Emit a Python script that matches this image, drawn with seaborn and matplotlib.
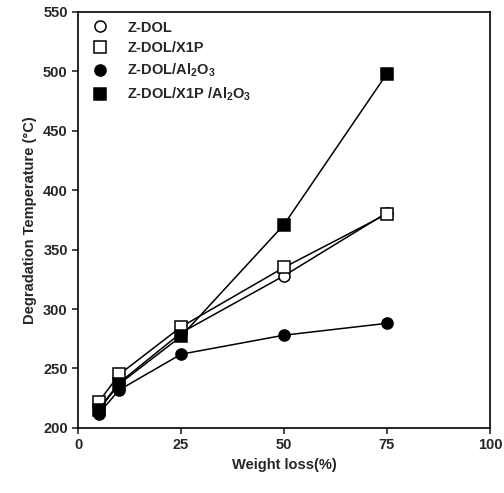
import seaborn as sns
import matplotlib.pyplot as plt
import pandas as pd

sns.set_style("ticks")
plt.rcParams['font.family'] = ['Liberation Sans', 'DejaVu Sans']
plt.rcParams['mathtext.default'] = 'regular'

weight_loss = [5, 10, 25, 50, 75]
zdol = [216, 238, 280, 328, 381]
zdol_x1p = [222, 245, 285, 335, 380]
zdol_al2o3 = [212, 232, 262, 278, 288]
zdol_x1p_al2o3 = [215, 237, 277, 371, 498]

labels = ['Z-DOL', 'Z-DOL/X1P', r'Z-DOL/Al$_2$O$_3$', r'Z-DOL/X1P /Al$_2$O$_3$']
series = [zdol, zdol_x1p, zdol_al2o3, zdol_x1p_al2o3]
markers = ['o', 's', 'o', 's']
fills = ['white', 'white', 'black', 'black']

rows = []
for lab, vals in zip(labels, series):
    for x, y in zip(weight_loss, vals):
        rows.append({'Weight loss': x, 'Temp': y, 'Sample': lab})
df = pd.DataFrame(rows)

fig = plt.figure(figsize=(5.04, 4.93), dpi=100)
ax = fig.add_axes([0.155, 0.132, 0.817, 0.844])

for lab, m, fc in zip(labels, markers, fills):
    sub = df[df['Sample'] == lab]
    sns.lineplot(data=sub, x='Weight loss', y='Temp', ax=ax, color='black',
                 linewidth=1.1, marker=m, markersize=8, markerfacecolor=fc,
                 markeredgecolor='black', markeredgewidth=1.1, label=lab)

ax.set_xlim(0, 100)
ax.set_ylim(200, 550)
ax.set_xticks([0, 25, 50, 75, 100])
ax.set_yticks(range(200, 551, 50))
ax.tick_params(direction='out', length=4, width=1.2, labelsize=10.5)
for t in ax.get_xticklabels() + ax.get_yticklabels():
    t.set_fontweight('bold')
for s in ax.spines.values():
    s.set_visible(True)
    s.set_linewidth(1.2)
    s.set_color('black')

ax.set_xlabel('Weight loss(%)', fontsize=10.5, fontweight='bold')
ax.set_ylabel('Degradation Temperature (°C)', fontsize=10.5, fontweight='bold')

leg = ax.legend(loc='upper left', bbox_to_anchor=(0.04, 0.993), frameon=False,
                fontsize=10.5, handlelength=0, handletextpad=1.85,
                borderaxespad=0, labelspacing=0.45)
for h in leg.legend_handles:
    h.set_linestyle('None')
for t in leg.get_texts():
    t.set_fontweight('bold')

fig.savefig('out.png', dpi=100)
